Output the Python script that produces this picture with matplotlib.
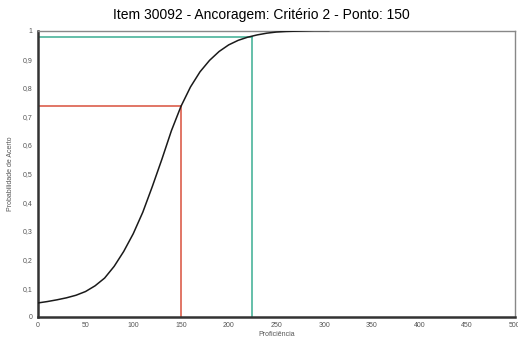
import matplotlib
matplotlib.use('Agg')
from matplotlib import pyplot as plt

plt.rcParams['font.family'] = ['Liberation Sans', 'DejaVu Sans']

# curve (proficiency -> probability)
proficiency = [0, 10, 20, 30, 40, 50, 60, 70, 80, 90, 100, 110, 120, 130, 140,
               150, 160, 170, 180, 190, 200, 210, 220, 230, 240, 250, 260, 270,
               280, 290, 305]
probability = [0.048, 0.053, 0.059, 0.066, 0.075, 0.088, 0.108, 0.135, 0.176,
               0.228, 0.290, 0.365, 0.455, 0.550, 0.650, 0.735, 0.803, 0.856,
               0.896, 0.927, 0.950, 0.966, 0.977, 0.985, 0.991, 0.995, 0.997,
               0.998, 0.999, 1.0, 1.0]

# anchor markers: (point, probability)
anchor_point = [150, 225]
anchor_prob = [0.735, 0.979]
anchor_colour = ['#d8503c', '#3aad92']

x_ticks = list(range(0, 501, 50))
y_ticks = [i / 10 for i in range(11)]
y_tick_labels = ['0', '0,1', '0,2', '0,3', '0,4', '0,5', '0,6', '0,7', '0,8', '0,9', '1']

fig = plt.figure(figsize=(5.18, 3.40), dpi=100)
ax = fig.add_axes([0.073, 0.0685, 0.921, 0.8415])

for p, prob, col in zip(anchor_point, anchor_prob, anchor_colour):
    ax.plot([0, p], [prob, prob], color=col, lw=1.1, zorder=2)
    ax.plot([p, p], [0, prob], color=col, lw=1.1, zorder=2)

ax.plot(proficiency, probability, color='#1a1a1a', lw=1.1, zorder=3)

ax.set_xlim(0, 500)
ax.set_ylim(0, 1)
ax.set_xticks(x_ticks)
ax.set_xticklabels([str(v) for v in x_ticks])
ax.set_yticks(y_ticks)
ax.set_yticklabels(y_tick_labels)
ax.tick_params(length=0, labelsize=5, colors='#555555', pad=4)

ax.spines['left'].set_linewidth(1.8)
ax.spines['left'].set_color('#333333')
ax.spines['bottom'].set_linewidth(1.8)
ax.spines['bottom'].set_color('#333333')
ax.spines['top'].set_linewidth(1.0)
ax.spines['top'].set_color('#888888')
ax.spines['right'].set_linewidth(1.0)
ax.spines['right'].set_color('#888888')

fig.suptitle('Item 30092 - Ancoragem: Critério 2 - Ponto: 150', fontsize=10,
             x=0.505, y=0.975, va='top')
ax.set_xlabel('Proficiência', fontsize=5, color='#555555', labelpad=1)
ax.set_ylabel('Probabilidade de Acerto', fontsize=5, color='#555555', labelpad=6)

plt.savefig('out.png', dpi=100)
